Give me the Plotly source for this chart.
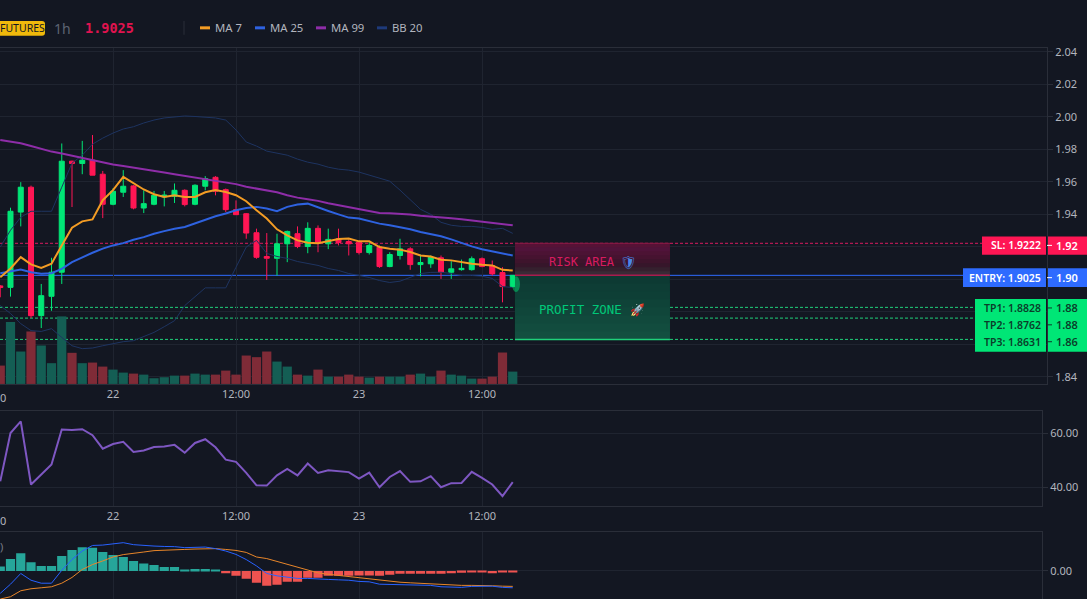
import pandas as pd
import plotly.graph_objects as go

W, H = 1087, 599
PX_PER_HOUR = 10.25

BG = "#131722"
GRID = "#1f2430"
LINE = "#2a2e39"
TICK = "#b2b5be"
UP = "#00e676"
DOWN = "#ff1654"
BLUE = "#2e6bff"

# hourly candles, first one is 21st 13:00
times = pd.date_range("2024-01-21 13:00", periods=51, freq="h")
opens = [1.8960, 1.8951, 1.9414, 1.9567, 1.8777, 1.8896, 1.9044, 1.9727, 1.9713, 1.9733, 1.9647, 1.9462, 1.9536,
         1.9575, 1.9439, 1.9462, 1.9507, 1.9511, 1.9548, 1.9462, 1.9573, 1.9628, 1.9552, 1.9429, 1.9404, 1.9287,
         1.9141, 1.9130, 1.9219, 1.9281, 1.9202, 1.9314, 1.9219, 1.9250, 1.9233, 1.9229, 1.9165, 1.9198, 1.9079,
         1.9147, 1.9188, 1.9091, 1.9096, 1.9133, 1.9044, 1.9060, 1.9060, 1.9127, 1.9085, 1.9042, 1.8956]
highs = [1.8965, 1.9441, 1.9598, 1.9577, 1.8972, 1.9133, 1.9836, 1.9730, 1.9852, 1.9888, 1.9667, 1.9560, 1.9672,
         1.9580, 1.9548, 1.9544, 1.9544, 1.9590, 1.9554, 1.9585, 1.9635, 1.9635, 1.9559, 1.9486, 1.9408, 1.9312,
         1.9285, 1.9281, 1.9300, 1.9326, 1.9351, 1.9332, 1.9312, 1.9312, 1.9246, 1.9233, 1.9227, 1.9209, 1.9167,
         1.9250, 1.9198, 1.9153, 1.9147, 1.9147, 1.9112, 1.9122, 1.9141, 1.9135, 1.9116, 1.9075, 1.9025]
lows = [1.8890, 1.8894, 1.9326, 1.8762, 1.8701, 1.8807, 1.8972, 1.9445, 1.9647, 1.9641, 1.9377, 1.9456, 1.9507,
        1.9431, 1.9408, 1.9456, 1.9449, 1.9470, 1.9449, 1.9456, 1.9548, 1.9517, 1.9414, 1.9398, 1.9250, 1.9127,
        1.8997, 1.9023, 1.9106, 1.9192, 1.9161, 1.9167, 1.9186, 1.9209, 1.9147, 1.9153, 1.9153, 1.9071, 1.9075,
        1.9122, 1.9059, 1.9019, 1.9071, 1.9003, 1.9003, 1.9054, 1.9054, 1.9075, 1.9023, 1.8859, 1.8950]
closes = [1.8950, 1.9419, 1.9567, 1.8777, 1.8900, 1.9044, 1.9727, 1.9713, 1.9733, 1.9641, 1.9462, 1.9542, 1.9573,
          1.9439, 1.9466, 1.9517, 1.9519, 1.9548, 1.9460, 1.9579, 1.9620, 1.9542, 1.9429, 1.9398, 1.9285, 1.9136,
          1.9130, 1.9219, 1.9295, 1.9202, 1.9314, 1.9223, 1.9246, 1.9227, 1.9219, 1.9165, 1.9209, 1.9079, 1.9153,
          1.9188, 1.9091, 1.9104, 1.9136, 1.9044, 1.9065, 1.9068, 1.9127, 1.9079, 1.9034, 1.8956, 1.9025]

ma7 = [1.9013, 1.9067, 1.9137, 1.9092, 1.9071, 1.9096, 1.9209, 1.9318, 1.9357, 1.9369, 1.9487, 1.9549, 1.9631,
       1.9590, 1.9553, 1.9524, 1.9507, 1.9518, 1.9507, 1.9507, 1.9536, 1.9549, 1.9538, 1.9518, 1.9481, 1.9425,
       1.9374, 1.9308, 1.9271, 1.9240, 1.9226, 1.9223, 1.9234, 1.9248, 1.9251, 1.9234, 1.9234, 1.9199, 1.9189,
       1.9183, 1.9168, 1.9147, 1.9141, 1.9121, 1.9117, 1.9106, 1.9096, 1.9090, 1.9086, 1.9059, 1.9055]
ma25 = [1.9038, 1.9051, 1.9061, 1.9044, 1.9035, 1.9038, 1.9065, 1.9106, 1.9137, 1.9164, 1.9189, 1.9209, 1.9223,
        1.9244, 1.9260, 1.9281, 1.9297, 1.9312, 1.9322, 1.9343, 1.9368, 1.9388, 1.9405, 1.9425, 1.9439, 1.9446,
        1.9436, 1.9419, 1.9446, 1.9460, 1.9466, 1.9442, 1.9421, 1.9400, 1.9380, 1.9374, 1.9359, 1.9343, 1.9333,
        1.9322, 1.9308, 1.9291, 1.9277, 1.9265, 1.9246, 1.9223, 1.9203, 1.9186, 1.9174, 1.9158, 1.9147]
ma99 = [1.9857, 1.9848, 1.9837, 1.9820, 1.9802, 1.9786, 1.9774, 1.9761, 1.9746, 1.9731, 1.9718, 1.9707, 1.9698,
        1.9689, 1.9678, 1.9668, 1.9658, 1.9647, 1.9637, 1.9627, 1.9616, 1.9604, 1.9595, 1.9586, 1.9570, 1.9558,
        1.9549, 1.9536, 1.9518, 1.9503, 1.9493, 1.9483, 1.9468, 1.9456, 1.9444, 1.9429, 1.9419, 1.9408, 1.9407,
        1.9405, 1.9399, 1.9392, 1.9388, 1.9382, 1.9376, 1.9370, 1.9363, 1.9357, 1.9351, 1.9343, 1.9333]
bb_upper = [1.9199, 1.9302, 1.9382, 1.9419, 1.9419, 1.9419, 1.9567, 1.9715, 1.9764, 1.9832, 1.9869, 1.9900, 1.9925,
            1.9939, 1.9962, 1.9980, 1.9993, 1.9999, 2.0005, 2.0002, 1.9999, 1.9993, 1.9980, 1.9919, 1.9845, 1.9820,
            1.9789, 1.9777, 1.9764, 1.9740, 1.9721, 1.9709, 1.9690, 1.9678, 1.9672, 1.9660, 1.9641, 1.9623, 1.9604,
            1.9549, 1.9487, 1.9431, 1.9400, 1.9351, 1.9333, 1.9326, 1.9326, 1.9320, 1.9308, 1.9314, 1.9283]
bb_lower = [1.8839, 1.8790, 1.8728, 1.8685, 1.8680, 1.8697, 1.8643, 1.8592, 1.8574, 1.8578, 1.8592, 1.8606, 1.8617,
            1.8623, 1.8648, 1.8674, 1.8709, 1.8746, 1.8839, 1.8895, 1.8948, 1.8948, 1.8948, 1.9075, 1.9199, 1.9240,
            1.9160, 1.9141, 1.9129, 1.9110, 1.9098, 1.9086, 1.9067, 1.9055, 1.9036, 1.9024, 1.9012, 1.8993, 1.8981,
            1.8989, 1.9012, 1.9036, 1.9043, 1.9044, 1.9036, 1.9024, 1.9024, 1.9020, 1.9006, 1.8956, 1.8950]
volume = [18.3, 61.7, 32.3, 52.3, 38.3, 20.7, 67.3, 31.0, 20.7, 21.3, 17.3, 14.3, 11.3,
          10.3, 9.3, 5.7, 6.7, 8.3, 8.3, 10.3, 9.3, 9.3, 13.3, 9.3, 28.3, 26.7,
          32.3, 22.3, 17.3, 9.3, 8.3, 14.3, 7.3, 7.3, 9.3, 7.3, 6.3, 7.3, 7.3,
          7.3, 9.3, 10.3, 7.3, 13.3, 9.3, 8.3, 5.3, 5.3, 7.3, 31.3, 12.3]
rsi = [42.2, 60.1, 64.4, 41.0, 44.7, 48.4, 61.4, 61.2, 61.5, 59.3, 54.3, 56.0, 56.8,
       53.1, 53.6, 54.9, 55.1, 55.7, 52.8, 56.4, 57.8, 54.8, 50.2, 49.4, 45.3, 40.7,
       40.6, 44.4, 46.8, 44.4, 48.8, 45.3, 46.3, 45.9, 45.6, 43.2, 45.4, 40.0, 43.8,
       46.0, 42.0, 42.2, 44.1, 40.0, 41.5, 41.6, 45.7, 43.5, 41.0, 36.7, 41.9]
macd_hist = [0.0022, 0.0060, 0.0089, 0.0044, 0.0025, 0.0025, 0.0075, 0.0105, 0.0119, 0.0117, 0.0095, 0.0080, 0.0070,
             0.0050, 0.0037, 0.0030, 0.0020, 0.0020, 0.0005, 0.0010, 0.0010, 0.0007, -0.0012, -0.0025, -0.0040, -0.0060,
             -0.0075, -0.0070, -0.0055, -0.0055, -0.0035, -0.0035, -0.0025, -0.0025, -0.0025, -0.0023, -0.0023, -0.0025,
             -0.0019, -0.0015, -0.0015, -0.0015, -0.0015, -0.0015, -0.0012, -0.0009, -0.0004, -0.0007, -0.0012, -0.0007,
             -0.0007]
macd_line = [-0.0113, -0.0067, -0.0013, -0.0047, -0.0062, -0.0062, 0.0003, 0.0057, 0.0100, 0.0128, 0.0130, 0.0135,
             0.0142, 0.0132, 0.0127, 0.0125, 0.0123, 0.0122, 0.0117, 0.0118, 0.0120, 0.0112, 0.0100, 0.0083, 0.0057,
             0.0025, -0.0013, -0.0025, -0.0033, -0.0038, -0.0038, -0.0042, -0.0043, -0.0045, -0.0047, -0.0053, -0.0055,
             -0.0067, -0.0068, -0.0067, -0.0070, -0.0072, -0.0073, -0.0080, -0.0083, -0.0083, -0.0078, -0.0077, -0.0077,
             -0.0083, -0.0085]
macd_signal = [-0.0142, -0.0130, -0.0100, -0.0090, -0.0085, -0.0080, -0.0062, -0.0033, 0.0007, 0.0032, 0.0050, 0.0070,
               0.0082, 0.0090, 0.0095, 0.0102, 0.0105, 0.0108, 0.0108, 0.0110, 0.0112, 0.0112, 0.0108, 0.0103, 0.0093,
               0.0070, 0.0062, 0.0048, 0.0033, 0.0017, 0.0003, -0.0010, -0.0017, -0.0023, -0.0030, -0.0035, -0.0042,
               -0.0048, -0.0053, -0.0057, -0.0060, -0.0063, -0.0067, -0.0070, -0.0072, -0.0073, -0.0073, -0.0073, -0.0075,
               -0.0077, -0.0078]

price_ticks = [2.04, 2.02, 2.00, 1.98, 1.96, 1.94, 1.92, 1.90, 1.88, 1.86, 1.84]
# 1.92-1.86 sit under the coloured price tags, those get their text from the tags
price_labels = ["2.04", "2.02", "2.00", "1.98", "1.96", "1.94", "", "", "", "", "1.84"]
time_ticks = ["2024-01-22 00:00", "2024-01-22 12:00", "2024-01-23 00:00", "2024-01-23 12:00"]
time_labels = ["22", "12:00", "23", "12:00"]

sl_level = 1.9222
entry_level = 1.9025
tp_levels = [1.8828, 1.8762, 1.8631]


def px(x):
    return x / W


def py(y):
    return 1 - y / H


def x_range(width):
    start = pd.Timestamp(time_ticks[0]) - pd.Timedelta(hours=113 / PX_PER_HOUR)
    return [start, start + pd.Timedelta(hours=width / PX_PER_HOUR)]


fig = go.Figure()

vol_colors = ["#145e54" if c >= o else "#7f2b37" for o, c in zip(opens, closes)]
fig.add_trace(go.Bar(x=times, y=volume, marker=dict(color=vol_colors, line_width=0), xaxis="x", yaxis="y"))

for values in [bb_upper, bb_lower]:
    fig.add_trace(go.Scatter(x=times, y=values, mode="lines", line=dict(color="#1e3461", width=1), yaxis="y2"))

fig.add_trace(go.Candlestick(
    x=times, open=opens, high=highs, low=lows, close=closes, yaxis="y2",
    increasing=dict(line=dict(color=UP, width=1), fillcolor=UP),
    decreasing=dict(line=dict(color=DOWN, width=1), fillcolor=DOWN),
))
for values, color in [(ma99, "#8e2da8"), (ma25, "#2e62e0"), (ma7, "#f39c24")]:
    fig.add_trace(go.Scatter(x=times, y=values, mode="lines", line=dict(color=color, width=2), yaxis="y2"))

fig.add_trace(go.Scatter(x=times, y=rsi, mode="lines", line=dict(color="#7e57c2", width=2), xaxis="x2", yaxis="y3"))

hist_colors = ["#26a69a" if v >= 0 else "#ef5350" for v in macd_hist]
fig.add_trace(go.Bar(x=times, y=macd_hist, marker=dict(color=hist_colors, line_width=0), xaxis="x3", yaxis="y4"))
fig.add_trace(go.Scatter(x=times, y=macd_signal, mode="lines", line=dict(color="#e8862a", width=1), xaxis="x3", yaxis="y4"))
fig.add_trace(go.Scatter(x=times, y=macd_line, mode="lines", line=dict(color="#2962ff", width=1), xaxis="x3", yaxis="y4"))

shapes = []
annotations = []


def hline(level, color, dash, end_x, width=1):
    shapes.append(dict(type="line", xref="paper", yref="y2", x0=0, x1=px(end_x), y0=level, y1=level,
                       line=dict(color=color, width=width, dash=dash), layer="below"))


def box(x0, x1, y0, y1, color):
    shapes.append(dict(type="rect", xref="paper", yref="paper", x0=px(x0), x1=px(x1), y0=py(y0), y1=py(y1),
                       fillcolor=color, line_width=0, layer="above"))


def label(x, y, text, color, size=11, anchor="left", family="Noto Sans", weight=None):
    font = dict(family=family, size=size, color=color)
    if weight:
        font["weight"] = weight
    annotations.append(dict(xref="paper", yref="paper", x=px(x), y=py(y), text=text, showarrow=False,
                            xanchor=anchor, yanchor="middle", font=font, borderpad=0, borderwidth=0))


hline(sl_level, "#d81b60", "3px,2px", 982)
hline(entry_level, BLUE, "solid", 963)
for level in tp_levels:
    hline(level, "#1fd07a", "3px,2px", 975)

# risk / profit boxes, banded to fake the gradient. each band runs to the bottom so no seams show
risk_x0, risk_x1 = "2024-01-23 15:13", "2024-01-24 06:20"
risk_bands = ["#561236", "#50133a", "#4c1334", "#461330", "#3e142c", "#36162a", "#35202e", "#3a2a36"]
profit_bands = ["#0d3a33", "#0e3d35", "#0e3f36", "#0f4338", "#10463a", "#11493c", "#124c3e", "#134f40"]
for bands, top, bottom in [(risk_bands, sl_level, entry_level), (profit_bands, entry_level, tp_levels[2])]:
    step = (top - bottom) / len(bands)
    for i, color in enumerate(bands):
        shapes.append(dict(type="rect", xref="x", yref="y2", x0=risk_x0, x1=risk_x1,
                           y0=top - i * step, y1=bottom,
                           fillcolor=color, line_width=0, layer="above"))
for level, color, width in [(entry_level, "#a81c4e", 1.5), (tp_levels[2], "#1fd07a", 1.5), (sl_level, "#8c1a45", 1)]:
    shapes.append(dict(type="line", xref="x", yref="y2", x0=risk_x0, x1=risk_x1, y0=level, y1=level,
                       line=dict(color=color, width=width), layer="above"))
shapes.append(dict(type="circle", xref="paper", yref="paper", x0=px(512), x1=px(520), y0=py(274), y1=py(290),
                   fillcolor="rgba(0,230,118,0.45)", line_width=0, layer="above"))

label(549, 260, "RISK AREA", "#d81b60", 12, family="DejaVu Sans Mono")
label(620, 259.5, "🛡", "#4a86e8", 13)
label(539, 307.5, "PROFIT ZONE", "#00c878", 12.5, family="DejaVu Sans Mono")
label(630, 307.5, "🚀", "#e57399", 12)

# price tags on the right
box(982, 1046, 234, 252.5, DOWN)
box(1048, 1087, 234, 252.5, DOWN)
box(963, 1046, 266, 285, BLUE)
box(1048, 1087, 266, 285, BLUE)
box(975, 1046, 297, 350, UP)
box(1048, 1087, 297, 350, UP)
label(1041, 243, "SL: %.4f" % sl_level, "#ffffff", 10.5, "right", weight=600)
label(1056, 243, "1.92", "#ffffff", 11, weight=600)
label(1041, 275.5, "ENTRY: %.4f" % entry_level, "#ffffff", 10.5, "right", weight=600)
label(1056, 275.5, "1.90", "#ffffff", 11, weight=600)
for i, (level, tag) in enumerate(zip(tp_levels, ["1.88", "1.88", "1.86"])):
    y = 306 + i * 17
    label(1041, y, "TP%d: %.4f" % (i + 1, level), "#0b3d2a", 10.5, "right", weight=600)
    label(1056, y, tag, "#0b3d2a", 11, weight=600)
    shapes.append(dict(type="line", xref="paper", yref="paper", x0=px(1047), x1=px(1052), y0=py(y), y1=py(y),
                       line=dict(color="#0b3d2a", width=1), layer="above"))
for y in [243, 275.5]:
    shapes.append(dict(type="line", xref="paper", yref="paper", x0=px(1047), x1=px(1052), y0=py(y), y1=py(y),
                       line=dict(color="#ffffff", width=1), layer="above"))

# header strip, badge is rounded on the right
badge_path = "M %f,%f L %f,%f Q %f,%f %f,%f L %f,%f Q %f,%f %f,%f L %f,%f Z" % (
    px(-6), py(17), px(42), py(17), px(45), py(17), px(45), py(20),
    px(45), py(29), px(45), py(32), px(42), py(32), px(-6), py(32))
shapes.append(dict(type="path", xref="paper", yref="paper", path=badge_path,
                   fillcolor="#f0b90b", line_width=0, layer="above"))
label(0, 24.5, "FUTURES", "#131722", 10.5)
label(54, 24.5, "1h", "#5d6472", 14)
label(85, 24.5, "1.9025", "#e0134f", 13.5, family="DejaVu Sans Mono", weight=700)
shapes.append(dict(type="line", xref="paper", yref="paper", x0=px(184), x1=px(184), y0=py(17), y1=py(31),
                   line=dict(color="#2a2e39", width=1)))
for x, color, text in [(200, "#f39c24", "MA 7"), (255, "#2e62e0", "MA 25"), (316, "#8e2da8", "MA 99"), (377, "#1e3a7a", "BB 20")]:
    shapes.append(dict(type="line", xref="paper", yref="paper", x0=px(x), x1=px(x + 10), y0=py(24), y1=py(24),
                       line=dict(color=color, width=3)))
    label(x + 15, 23.5, text, "#b2b5be", 11.3)

# bits of labels cut off by the left edge of the window
label(0, 396, "0", TICK, 11)
label(0, 520, "0", TICK, 11)
label(0, 546, ")", "#787b86", 11)

x_common = dict(type="date", showgrid=True, gridcolor=GRID, zeroline=False, showline=True, linecolor=LINE, mirror=True,
                tickvals=time_ticks, ticktext=time_labels, tickangle=0, ticks="",
                tickfont=dict(family="Noto Sans", size=11, color=TICK))
y_common = dict(showgrid=True, gridcolor=GRID, zeroline=False, showline=True, linecolor=LINE, side="right",
                ticks="outside", ticklen=5, tickcolor=LINE,
                tickfont=dict(family="Noto Sans", size=11, color=TICK))

# top edge nudged, the panel came out lower than asked
main_domain = [py(382.5), py(44)]
fig.update_layout(
    width=W, height=H, margin=dict(l=0, r=0, t=0, b=0), autosize=False,
    paper_bgcolor=BG, plot_bgcolor=BG, showlegend=False, bargap=0.1, hovermode=False,
    xaxis=dict(x_common, domain=[0, px(1047)], range=x_range(1047), anchor="y", rangeslider=dict(visible=False)),
    xaxis2=dict(x_common, domain=[0, px(1042)], range=x_range(1042), anchor="y3"),
    xaxis3=dict(x_common, domain=[0, px(1042)], range=x_range(1042), anchor="y4", showticklabels=False),
    yaxis=dict(domain=main_domain, range=[0, 335], visible=False),
    yaxis2=dict(y_common, domain=main_domain, overlaying="y", anchor="x", range=[1.8357, 2.0425],
                tickvals=price_ticks, ticktext=price_labels),
    yaxis3=dict(y_common, domain=[py(505.5), py(410)], anchor="x2", range=[33.0, 68.15], tickvals=[40, 60],
                ticktext=["40.00", "60.00"]),
    yaxis4=dict(y_common, domain=[0, py(532)], anchor="x3", range=[-0.01415, 0.01935], tickvals=[0],
                ticktext=["0.00"]),
    shapes=shapes, annotations=annotations,
)

# the page body's default margin would shift everything by 8px
fig.write_html("out.html", config={"displayModeBar": False}, post_script="document.body.style.margin = '0';")
